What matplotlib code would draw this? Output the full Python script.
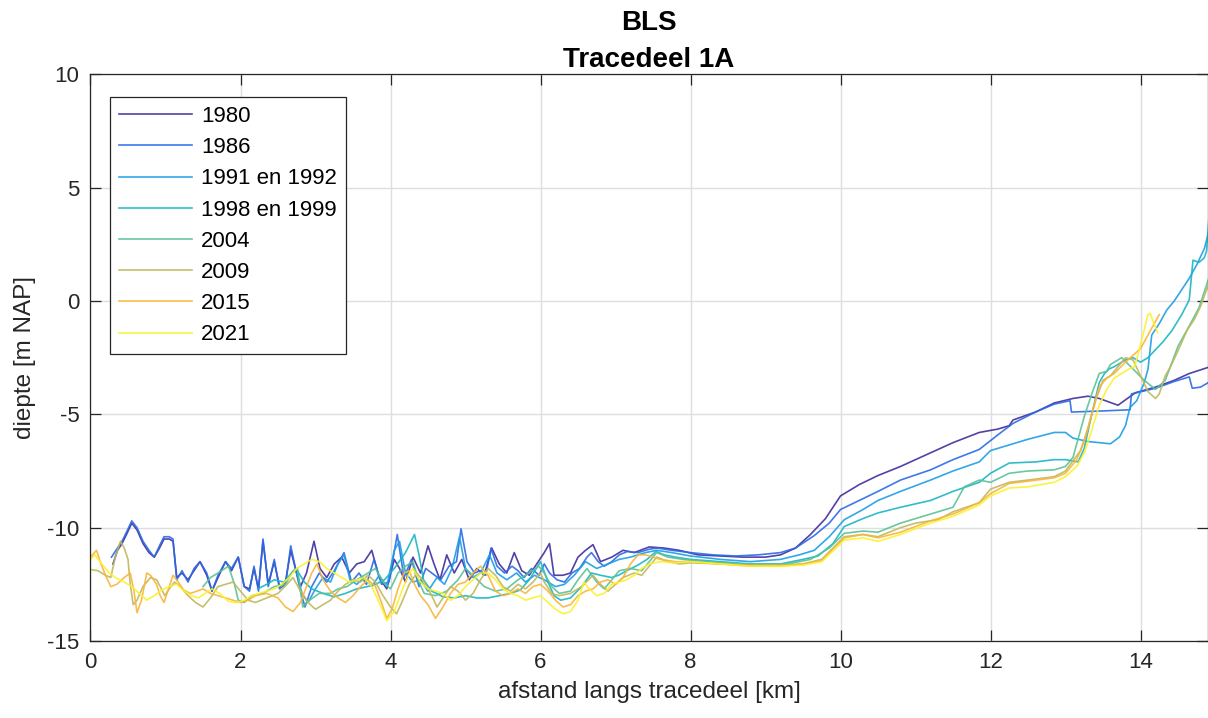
import matplotlib
matplotlib.use("Agg")
import matplotlib.pyplot as plt

# ---- profile data: distance along section [km] and depth [m NAP] ----
x_1980 = [0.30, 0.36, 0.42, 0.48, 0.55, 0.62, 0.70, 0.78, 0.85, 0.92, 0.98, 1.05, 1.10, 1.15, 1.22, 1.30,
          1.38, 1.46, 1.55, 1.62, 1.70, 1.80, 1.88, 1.97, 2.05, 2.12, 2.18, 2.24, 2.30, 2.37, 2.45, 2.52,
          2.60, 2.67, 2.74, 2.80, 2.88, 2.98, 3.06, 3.15, 3.25, 3.35, 3.45, 3.55, 3.65, 3.75, 3.85, 3.95,
          4.05, 4.12, 4.20, 4.30, 4.40, 4.50, 4.58, 4.66, 4.75, 4.85, 4.95, 5.05, 5.15, 5.25, 5.35, 5.45,
          5.55, 5.65, 5.75, 5.85, 5.95, 6.05, 6.12, 6.18, 6.30, 6.40, 6.50, 6.60, 6.70, 6.80, 6.95, 7.10,
          7.25, 7.45, 7.65, 7.85, 8.10, 8.40, 8.70, 9.00, 9.20, 9.40, 9.60, 9.80, 10.00, 10.25, 10.50,
          10.80, 11.20, 11.50, 11.85, 12.10, 12.25, 12.30, 12.60, 12.85, 13.10, 13.30, 13.45, 13.70,
          13.93, 14.20, 14.45, 14.65, 14.93]
y_1980 = [-11.6, -11.0, -10.7, -10.3, -9.8, -10.1, -10.7, -11.1, -11.3, -10.9, -10.5, -10.5, -10.6, -12.2,
          -12.0, -12.3, -11.9, -11.5, -12.1, -12.8, -12.2, -11.5, -11.9, -11.3, -12.6, -12.7, -11.8, -12.7,
          -10.6, -12.5, -11.5, -12.6, -12.4, -11.0, -11.9, -12.6, -12.0, -10.6, -11.8, -12.2, -11.6, -11.3,
          -12.0, -11.6, -11.5, -11.0, -12.2, -12.7, -11.4, -11.8, -12.4, -11.3, -12.0, -10.8, -11.6, -12.3,
          -11.2, -12.0, -11.4, -12.3, -11.8, -12.1, -10.9, -11.6, -12.0, -11.1, -11.9, -12.1, -11.6, -11.1,
          -10.7, -12.1, -12.1, -12.0, -11.3, -11.0, -10.75, -11.5, -11.3, -11.0, -11.1, -10.85, -10.9,
          -11.0, -11.2, -11.25, -11.3, -11.3, -11.2, -10.9, -10.3, -9.6, -8.6, -8.1, -7.7, -7.3, -6.7,
          -6.25, -5.8, -5.65, -5.5, -5.25, -4.9, -4.5, -4.3, -4.2, -4.3, -4.6, -4.05, -3.8, -3.5, -3.2, -2.9]

x_1986 = [0.28, 0.36, 0.42, 0.48, 0.55, 0.62, 0.70, 0.78, 0.85, 0.92, 0.98, 1.05, 1.10, 1.15, 1.22, 1.30,
          1.38, 1.46, 1.55, 1.62, 1.70, 1.80, 1.88, 1.97, 2.05, 2.12, 2.18, 2.24, 2.30, 2.37, 2.45, 2.52,
          2.60, 2.67, 2.74, 2.80, 2.86, 2.95, 3.05, 3.15, 3.25, 3.38, 3.48, 3.58, 3.68, 3.78, 3.88, 3.98,
          4.09, 4.18, 4.28, 4.38, 4.47, 4.55, 4.67, 4.78, 4.88, 4.94, 5.02, 5.12, 5.20, 5.27, 5.34, 5.42,
          5.52, 5.62, 5.70, 5.78, 5.88, 5.98, 6.05, 6.12, 6.22, 6.32, 6.42, 6.52, 6.62, 6.68, 6.77, 6.85,
          6.95, 7.05, 7.16, 7.30, 7.45, 7.56, 7.75, 8.00, 8.30, 8.60, 8.90, 9.20, 9.40, 9.65, 9.85, 10.00,
          10.25, 10.50, 10.80, 11.20, 11.50, 11.85, 12.10, 12.30, 12.60, 12.85, 13.06, 13.08, 13.50,
          13.86, 13.88, 14.20, 14.45, 14.65, 14.69, 14.80, 14.93]
y_1986 = [-11.3, -10.9, -10.6, -10.2, -9.7, -10.0, -10.6, -11.0, -11.3, -10.8, -10.4, -10.4, -10.5, -12.3,
          -11.9, -12.4, -11.8, -11.5, -12.0, -12.8, -12.1, -11.5, -11.8, -11.3, -12.6, -12.8, -11.7, -12.8,
          -10.5, -12.6, -11.4, -12.7, -12.5, -10.8, -11.9, -12.8, -13.5, -12.6, -12.0, -12.4, -11.9, -11.1,
          -12.4, -12.0, -12.5, -11.4, -12.5, -12.4, -10.3, -12.2, -11.4, -12.6, -11.8, -12.0, -12.3, -11.7,
          -11.5, -10.05, -11.5, -12.0, -11.9, -12.1, -10.9, -11.7, -12.0, -11.7, -11.9, -12.2, -11.8, -12.1,
          -11.6, -12.0, -12.3, -12.4, -12.0, -11.8, -11.3, -11.1, -11.5, -11.7, -11.5, -11.2, -11.05, -11.1,
          -10.95, -10.9, -11.0, -11.1, -11.2, -11.25, -11.2, -11.1, -10.9, -10.35, -9.8, -9.2, -8.8, -8.4,
          -7.9, -7.45, -7.0, -6.55, -5.9, -5.4, -4.9, -4.55, -4.4, -4.9, -4.85, -4.8, -4.1, -3.85, -3.55,
          -3.35, -3.85, -3.8, -3.55]

x_1991 = [2.75, 2.82, 2.90, 3.00, 3.10, 3.20, 3.30, 3.38, 3.46, 3.55, 3.65, 3.75, 3.85, 3.95, 4.05, 4.12,
          4.20, 4.30, 4.40, 4.50, 4.62, 4.72, 4.82, 4.92, 5.00, 5.10, 5.20, 5.32, 5.42, 5.55, 5.68, 5.80,
          5.92, 6.05, 6.20, 6.32, 6.45, 6.60, 6.75, 6.90, 7.05, 7.20, 7.40, 7.55, 7.75, 8.00, 8.40, 8.80,
          9.20, 9.45, 9.65, 9.85, 10.05, 10.30, 10.50, 10.80, 11.20, 11.50, 11.85, 12.00, 12.25, 12.50,
          12.85, 13.00, 13.10, 13.30, 13.60, 13.72, 13.80, 13.86, 13.95, 14.05, 14.10, 14.15, 14.25,
          14.35, 14.45, 14.55, 14.65, 14.75, 14.85, 14.93]
y_1991 = [-12.0, -12.9, -13.3, -12.7, -12.2, -12.4, -11.6, -11.2, -12.3, -12.5, -12.2, -12.6, -12.1, -12.6,
          -11.0, -10.6, -12.0, -12.4, -12.3, -12.8, -12.2, -12.5, -11.8, -10.4, -11.8, -12.2, -12.0, -11.2,
          -12.0, -12.3, -12.0, -12.4, -12.1, -12.3, -12.6, -12.5, -12.1, -11.5, -11.8, -11.6, -11.4, -11.3,
          -11.1, -11.0, -11.1, -11.25, -11.4, -11.5, -11.4, -11.2, -11.0, -10.4, -9.65, -9.2, -8.8, -8.4,
          -7.9, -7.5, -7.1, -6.6, -6.35, -6.1, -5.8, -5.8, -6.05, -6.2, -6.3, -6.0, -5.5, -4.7, -4.4, -3.6,
          -3.0, -1.5, -1.0, -0.4, 0.0, 0.5, 1.0, 1.6, 2.3, 3.3]

x_1998 = [2.23, 2.35, 2.45, 2.58, 2.68, 2.75, 2.85, 2.95, 3.10, 3.25, 3.40, 3.55, 3.69, 3.80, 3.92, 4.05,
          4.20, 4.32, 4.38, 4.44, 4.55, 4.70, 4.85, 5.00, 5.15, 5.30, 5.45, 5.60, 5.73, 5.85, 6.00, 6.10,
          6.18, 6.27, 6.40, 6.55, 6.68, 6.80, 6.95, 7.04, 7.15, 7.30, 7.42, 7.54, 7.65, 7.80, 8.00, 8.40,
          8.80, 9.20, 9.50, 9.70, 9.90, 10.05, 10.30, 10.50, 10.80, 11.20, 11.50, 11.85, 12.00, 12.25,
          12.60, 12.85, 13.00, 13.17, 13.25, 13.35, 13.45, 13.52, 13.58, 13.65, 13.80, 13.90, 14.00,
          14.10, 14.20, 14.30, 14.42, 14.55, 14.65, 14.70, 14.78, 14.85, 14.88, 14.93]
y_1998 = [-12.7, -12.5, -12.3, -12.4, -12.0, -11.85, -12.4, -12.7, -12.9, -13.05, -12.9, -12.7, -12.6,
          -12.5, -12.3, -11.8, -11.1, -10.3, -11.2, -12.3, -12.8, -13.05, -13.1, -13.0, -13.1, -13.1, -13.0,
          -12.9, -12.75, -12.3, -11.5, -12.4, -13.0, -13.2, -13.1, -12.6, -12.0, -12.1, -12.2, -12.1, -11.9,
          -11.65, -11.4, -11.05, -11.2, -11.3, -11.4, -11.5, -11.6, -11.6, -11.4, -11.25, -10.7, -9.95,
          -9.6, -9.35, -9.1, -8.8, -8.4, -8.0, -7.6, -7.15, -7.1, -7.0, -7.0, -7.1, -6.5, -5.0, -3.6, -3.2,
          -3.0, -2.9, -2.6, -2.5, -2.7, -2.5, -2.15, -1.8, -1.3, -0.6, 0.05, 1.8, 1.7, 1.9, 2.2, 4.5]

x_2004 = [1.50, 1.60, 1.70, 1.84, 1.92, 1.97, 2.05, 2.15, 2.30, 2.45, 2.60, 2.70, 2.76, 2.83, 2.92, 3.05,
          3.20, 3.30, 3.42, 3.55, 3.70, 3.80, 3.90, 4.00, 4.10, 4.20, 4.30, 4.38, 4.45, 4.60, 4.75, 4.90,
          5.00, 5.10, 5.25, 5.40, 5.55, 5.70, 5.85, 5.98, 6.05, 6.15, 6.25, 6.40, 6.50, 6.62, 6.75, 6.85,
          6.95, 7.05, 7.20, 7.35, 7.45, 7.55, 7.70, 7.90, 8.20, 8.60, 9.00, 9.30, 9.60, 9.85, 10.05, 10.30,
          10.50, 10.80, 11.00, 11.20, 11.50, 11.65, 11.85, 12.00, 12.25, 12.50, 12.85, 13.00, 13.10, 13.25,
          13.35, 13.45, 13.55, 13.60, 13.75, 13.90, 14.05, 14.20, 14.33, 14.50, 14.65, 14.78, 14.93]
y_2004 = [-12.6, -12.2, -12.0, -11.7, -12.5, -13.2, -13.3, -13.0, -12.9, -12.6, -12.5, -11.9, -11.8, -13.5,
          -13.2, -12.9, -12.9, -12.7, -12.6, -12.3, -12.0, -11.8, -12.4, -12.7, -12.0, -11.7, -11.5, -12.4,
          -12.9, -13.0, -12.8, -12.3, -11.8, -12.1, -12.6, -12.8, -12.7, -12.3, -12.0, -11.7, -12.0, -12.6,
          -12.9, -12.8, -12.3, -11.8, -12.4, -12.7, -12.3, -11.9, -11.8, -11.9, -11.5, -11.1, -11.3, -11.4,
          -11.5, -11.6, -11.6, -11.6, -11.4, -10.9, -10.25, -10.15, -10.2, -9.8, -9.6, -9.4, -9.1, -8.2,
          -7.9, -8.0, -7.6, -7.5, -7.45, -7.3, -6.9, -5.1, -4.1, -3.2, -3.1, -2.8, -2.5, -3.0, -3.5, -3.9,
          -3.5, -2.0, -1.1, -0.3, 1.2]

x_2009 = [0.00, 0.10, 0.20, 0.27, 0.33, 0.40, 0.45, 0.50, 0.53, 0.57, 0.62, 0.70, 0.80, 0.88, 0.93, 0.99,
          1.05, 1.12, 1.20, 1.30, 1.40, 1.50, 1.60, 1.70, 1.80, 1.90, 2.00, 2.10, 2.20, 2.35, 2.50, 2.62,
          2.70, 2.80, 2.90, 3.00, 3.10, 3.20, 3.30, 3.40, 3.50, 3.60, 3.70, 3.80, 3.90, 4.00, 4.08, 4.15,
          4.25, 4.35, 4.45, 4.55, 4.62, 4.70, 4.80, 4.90, 5.00, 5.10, 5.20, 5.30, 5.40, 5.50, 5.60, 5.70,
          5.80, 5.90, 6.00, 6.05, 6.15, 6.25, 6.40, 6.55, 6.70, 6.80, 6.90, 7.00, 7.10, 7.25, 7.35, 7.45,
          7.55, 7.70, 7.85, 8.00, 8.40, 8.80, 9.20, 9.50, 9.75, 10.05, 10.30, 10.50, 10.80, 11.00, 11.30,
          11.50, 11.85, 12.00, 12.25, 12.50, 12.85, 13.00, 13.20, 13.30, 13.40, 13.50, 13.60, 13.70, 13.80,
          13.90, 14.00, 14.10, 14.20, 14.25, 14.33, 14.40, 14.50, 14.62, 14.72, 14.80, 14.87, 14.93]
y_2009 = [-11.85, -11.9, -12.1, -12.2, -11.3, -10.6, -10.9, -11.4, -12.5, -13.4, -13.2, -12.6, -12.2, -12.3,
          -12.6, -13.0, -12.7, -12.4, -12.6, -13.0, -13.3, -13.5, -13.1, -12.6, -12.5, -12.4, -12.8, -13.2,
          -13.3, -13.1, -12.9, -12.5, -12.2, -12.8, -13.3, -13.6, -13.4, -13.2, -12.8, -12.5, -12.3, -12.4,
          -12.1, -12.4, -13.0, -13.5, -13.8, -13.3, -12.5, -12.0, -12.4, -13.0, -13.5, -13.1, -12.6, -12.8,
          -13.2, -12.9, -12.3, -11.8, -12.1, -12.6, -12.8, -12.5, -12.7, -12.4, -12.0, -12.4, -12.9, -13.0,
          -12.9, -12.6, -12.1, -12.5, -12.8, -12.5, -12.2, -12.0, -12.1, -11.7, -11.3, -11.5, -11.6, -11.55,
          -11.6, -11.65, -11.65, -11.6, -11.4, -10.4, -10.3, -10.4, -10.0, -9.8, -9.65, -9.3, -8.9, -8.3,
          -8.0, -7.9, -7.75, -7.5, -6.6, -5.6, -4.4, -3.5, -3.3, -2.9, -2.5, -2.6, -3.3, -4.0, -4.3, -4.1,
          -3.3, -2.9, -2.2, -1.3, -0.8, -0.25, 0.4, 0.9]

x_2015 = [0.00, 0.08, 0.14, 0.20, 0.27, 0.35, 0.45, 0.53, 0.58, 0.62, 0.68, 0.75, 0.80, 0.88, 0.93, 0.98,
          1.04, 1.10, 1.17, 1.24, 1.33, 1.42, 1.50, 1.60, 1.70, 1.80, 1.90, 2.00, 2.10, 2.20, 2.35, 2.50,
          2.60, 2.70, 2.80, 2.88, 2.95, 3.02, 3.10, 3.20, 3.30, 3.40, 3.50, 3.60, 3.70, 3.80, 3.88, 3.95,
          4.02, 4.10, 4.18, 4.25, 4.32, 4.40, 4.50, 4.60, 4.70, 4.80, 4.90, 5.00, 5.10, 5.20, 5.30, 5.40,
          5.50, 5.60, 5.70, 5.80, 5.90, 6.00, 6.10, 6.20, 6.30, 6.40, 6.50, 6.60, 6.70, 6.80, 6.90, 7.00,
          7.10, 7.20, 7.30, 7.40, 7.50, 7.60, 7.80, 8.00, 8.40, 8.80, 9.20, 9.50, 9.75, 10.05, 10.30, 10.50,
          10.80, 11.20, 11.50, 11.85, 12.00, 12.25, 12.50, 12.85, 13.00, 13.15, 13.25, 13.35, 13.45, 13.55,
          13.65, 13.80, 13.90, 14.00, 14.10, 14.20, 14.25]
y_2015 = [-11.3, -11.0, -11.6, -12.1, -12.6, -12.5, -12.2, -12.0, -12.8, -13.75, -13.2, -12.0, -12.1, -12.5,
          -13.0, -13.3, -12.7, -12.1, -12.4, -12.75, -12.9, -12.8, -12.7, -12.9, -13.0, -13.1, -13.2, -13.3,
          -13.2, -13.0, -12.9, -13.1, -13.5, -13.7, -13.3, -12.6, -12.0, -11.6, -12.3, -12.8, -13.1, -13.3,
          -13.0, -12.6, -12.3, -12.6, -13.3, -14.0, -13.6, -12.7, -12.0, -11.9, -12.5, -13.0, -13.4, -14.0,
          -13.5, -12.9, -12.5, -12.4, -12.0, -11.7, -12.1, -12.8, -13.0, -12.9, -12.7, -12.9, -12.6, -12.5,
          -12.8, -13.2, -13.5, -13.4, -13.0, -12.8, -12.7, -12.4, -12.3, -12.5, -12.2, -11.6, -11.2, -11.2,
          -11.3, -11.4, -11.5, -11.5, -11.6, -11.7, -11.7, -11.6, -11.45, -10.45, -10.3, -10.45, -10.2,
          -9.7, -9.4, -8.9, -8.5, -8.05, -7.95, -7.8, -7.6, -7.0, -6.2, -5.0, -3.8, -3.4, -3.2, -2.7, -2.4,
          -2.1, -1.5, -0.9, -0.6]

x_2021 = [0.00, 0.06, 0.15, 0.25, 0.33, 0.45, 0.55, 0.65, 0.75, 0.85, 0.95, 1.05, 1.15, 1.25, 1.35, 1.44,
          1.53, 1.62, 1.72, 1.84, 1.95, 2.05, 2.15, 2.25, 2.35, 2.45, 2.55, 2.65, 2.75, 2.85, 2.95, 3.05,
          3.15, 3.25, 3.35, 3.45, 3.55, 3.65, 3.75, 3.85, 3.95, 4.05, 4.15, 4.25, 4.30, 4.40, 4.50, 4.60,
          4.70, 4.80, 4.90, 5.00, 5.10, 5.20, 5.30, 5.40, 5.50, 5.60, 5.70, 5.80, 5.90, 6.00, 6.10, 6.20,
          6.30, 6.40, 6.50, 6.58, 6.65, 6.75, 6.85, 6.95, 7.05, 7.15, 7.25, 7.35, 7.45, 7.60, 7.80, 8.00,
          8.40, 8.80, 9.20, 9.50, 9.75, 10.05, 10.30, 10.50, 10.80, 11.20, 11.50, 11.85, 12.00, 12.25,
          12.50, 12.85, 13.00, 13.15, 13.25, 13.35, 13.45, 13.55, 13.65, 13.75, 13.85, 13.92, 13.98,
          14.04, 14.10, 14.13, 14.18, 14.23]
y_2021 = [-11.4, -11.2, -11.6, -12.0, -12.2, -12.4, -12.6, -12.9, -13.2, -13.0, -12.75, -12.6, -12.5, -12.8,
          -13.0, -13.1, -12.9, -12.7, -12.9, -13.25, -13.3, -13.2, -13.0, -12.9, -12.8, -12.7, -12.5, -12.2,
          -11.8, -11.6, -11.4, -11.5, -11.8, -12.0, -12.2, -12.4, -12.3, -12.2, -12.6, -13.3, -14.1, -13.7,
          -12.8, -12.0, -11.8, -12.4, -12.7, -12.8, -12.9, -13.2, -13.0, -12.6, -12.3, -12.0, -12.0, -12.3,
          -12.7, -12.9, -13.0, -13.2, -13.1, -13.0, -13.3, -13.6, -13.8, -13.7, -13.2, -12.4, -12.7, -13.0,
          -12.9, -12.5, -12.4, -12.3, -12.1, -11.8, -11.6, -11.5, -11.55, -11.5, -11.6, -11.7, -11.7,
          -11.65, -11.5, -10.55, -10.45, -10.6, -10.3, -9.8, -9.5, -9.0, -8.6, -8.25, -8.2, -8.0, -7.75,
          -7.3, -6.7, -5.7, -4.6, -3.9, -3.4, -3.2, -3.0, -2.9, -2.2, -1.4, -0.6, -0.55, -1.0, -1.4]

labels = ["1980", "1986", "1991 en 1992", "1998 en 1999", "2004", "2009", "2015", "2021"]
series_x = [x_1980, x_1986, x_1991, x_1998, x_2004, x_2009, x_2015, x_2021]
series_y = [y_1980, y_1986, y_1991, y_1998, y_2004, y_2009, y_2015, y_2021]

# parula-like colour order, one colour per survey year
colors = ["#3f2d9c", "#2a6ae6", "#1c9ee6", "#1ab5c4", "#58c296", "#bfb85c", "#f9b53c", "#fbf22a"]

x_ticks = [0, 2, 4, 6, 8, 10, 12, 14]
y_ticks = [-15, -10, -5, 0, 5, 10]

plt.rcParams["font.family"] = ["Liberation Sans", "DejaVu Sans"]
plt.rcParams["axes.unicode_minus"] = False

W, H = 1208, 718
fig = plt.figure(figsize=(W / 100, H / 100), dpi=100)
ax_left, ax_right = 90.5, 1207.5
ax_top, ax_bottom = 74.3, 641.0
ax = fig.add_axes([ax_left / W, (H - ax_bottom) / H, (ax_right - ax_left) / W, (ax_bottom - ax_top) / H])

for xs, ys, lab, c in zip(series_x, series_y, labels, colors):
    ax.plot(xs, ys, color=c, lw=1.2, alpha=0.9, label=lab)

ax.set_xlim(0, (ax_right - ax_left) / 75.0)
ax.set_ylim(-15, 10)
ax.set_xticks(x_ticks)
ax.set_yticks(y_ticks)
ax.set_xticklabels([str(t) for t in x_ticks])
ax.set_yticklabels([str(t) for t in y_ticks])

dark = "#262626"
ax.grid(True, color="#dedede", lw=1.0)
ax.set_axisbelow(True)
for s in ax.spines.values():
    s.set_color(dark)
    s.set_linewidth(0.9)
ax.tick_params(axis="both", direction="in", length=8, width=0.9, color=dark,
               labelcolor=dark, labelsize=16, top=True, right=True, pad=8)

ax.set_xlabel("afstand langs tracedeel [km]", fontsize=17.5, color=dark, labelpad=6)
ax.set_ylabel("diepte [m NAP]", fontsize=17.5, color=dark, labelpad=8)
ax.set_title("BLS\nTracedeel 1A", fontsize=20, fontweight="bold", color="black", pad=5.5,
             linespacing=1.55)

leg = ax.legend(loc="upper left", bbox_to_anchor=((110 - ax_left) / (ax_right - ax_left),
                                                   (ax_bottom - 97) / (ax_bottom - ax_top)),
                borderaxespad=0, fontsize=16, frameon=True, fancybox=False, framealpha=1,
                edgecolor=dark, handlelength=3.3, handletextpad=0.4, labelspacing=0.46,
                borderpad=0.4)
leg.get_frame().set_linewidth(0.9)
for t in leg.get_texts():
    t.set_color("black")

fig.savefig("out.png", dpi=100, facecolor="white")
